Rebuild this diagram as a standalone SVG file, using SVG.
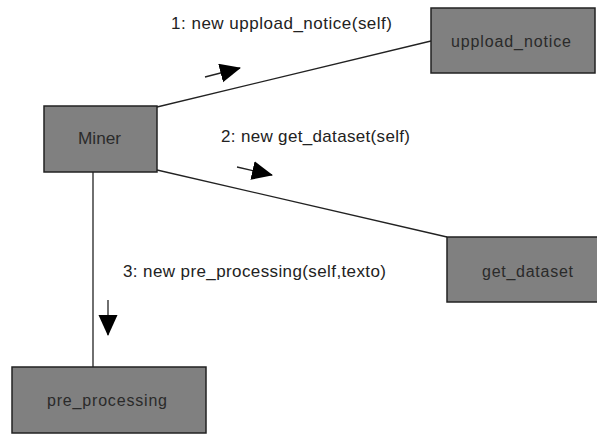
<svg xmlns="http://www.w3.org/2000/svg" width="597" height="434" viewBox="0 0 597 434">
  <style>
    .box { fill: #808080; stroke: #222; stroke-width: 1.5; }
    .lbl { font-family: "Liberation Sans", Arial, sans-serif; font-size: 16px; fill: #2a2a2a; }
    .msg { font-family: "Liberation Sans", Arial, sans-serif; font-size: 17px; fill: #222; }
    .link { stroke: #222; stroke-width: 1.3; fill: none; }
    .dir { stroke: #222; stroke-width: 1.3; fill: none; marker-end: url(#head); }
  </style>
  <defs>
    <marker id="head" markerUnits="userSpaceOnUse" markerWidth="22" markerHeight="20" refX="20" refY="9.5" orient="auto">
      <path d="M0,0 L21,9.5 L0,19 Z" fill="#000"/>
    </marker>
  </defs>
  <rect width="597" height="434" fill="#fff"/>
  <g id="connectors">
    <line class="link" x1="157" y1="107" x2="431" y2="41"/>
    <line class="link" x1="157" y1="170" x2="447" y2="237"/>
    <line class="link" x1="93" y1="172" x2="93" y2="367"/>
    <line class="dir" x1="205" y1="77" x2="240" y2="68"/>
    <line class="dir" x1="237" y1="167" x2="272" y2="175"/>
    <line class="dir" x1="108" y1="300" x2="108" y2="335"/>
    <text class="msg" x="171" y="29" textLength="221" lengthAdjust="spacing">1: new uppload_notice(self)</text>
    <text class="msg" x="221" y="142" textLength="189" lengthAdjust="spacing">2: new get_dataset(self)</text>
    <text class="msg" x="123" y="277" textLength="263" lengthAdjust="spacing">3: new pre_processing(self,texto)</text>
  </g>
  <g id="miner">
    <rect class="box" x="44" y="106" width="113" height="66"/>
    <text class="lbl" x="78" y="144" textLength="43" lengthAdjust="spacingAndGlyphs">Miner</text>
  </g>
  <g id="uppload_notice">
    <rect class="box" x="431" y="8" width="164" height="65"/>
    <text class="lbl" x="451" y="47" textLength="120" lengthAdjust="spacing">uppload_notice</text>
  </g>
  <g id="get_dataset">
    <rect class="box" x="447" y="237" width="152" height="65"/>
    <text class="lbl" x="482" y="277" textLength="91" lengthAdjust="spacing">get_dataset</text>
  </g>
  <g id="pre_processing">
    <rect class="box" x="12" y="367" width="194" height="66"/>
    <text class="lbl" x="47" y="406" textLength="120" lengthAdjust="spacing">pre_processing</text>
  </g>
</svg>
